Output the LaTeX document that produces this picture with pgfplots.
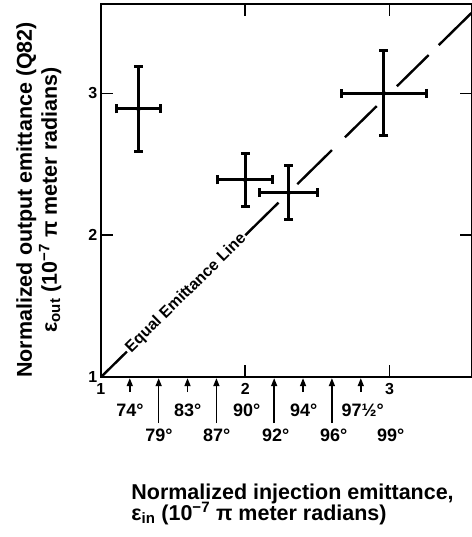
\documentclass[border=0pt]{standalone}
\usepackage{pgfplots}
\pgfplotsset{compat=1.18}
\usepackage{fontspec}
\setmainfont{Liberation Sans}
\newfontfamily\lab{Liberation Sans}
\usetikzlibrary{arrows.meta}
\begin{document}
\begin{tikzpicture}
\begin{axis}[
  scale only axis, width=371.4pt, height=373.5pt,
  xmin=1, xmax=3.57, ymin=1, ymax=3.63,
  xtick={1,2,3}, ytick={1,2,3},
  tick pos=both, tick align=inside, major tick length=12pt,
  tick style={black, line width=1.6pt},
  axis line style={line width=1.6pt},
  /pgf/number format/assume math mode=true,
  ticklabel style={font=\bfseries\fontsize{16}{16}\selectfont},
  xticklabel style={yshift=-3pt},
  clip=false,
]
% equal emittance line (segments)
\addplot[black, line width=2.4pt] coordinates {(1,1) (1.18,1.18)};
\addplot[black, line width=2.4pt] coordinates {(2.0,2.0) (2.23,2.23)};
\addplot[black, line width=2.4pt] coordinates {(2.36,2.36) (2.60,2.60)};
\addplot[black, line width=2.4pt] coordinates {(2.69,2.69) (2.91,2.91)};
\addplot[black, line width=2.4pt] coordinates {(3.05,3.05) (3.27,3.27)};
\addplot[black, line width=2.4pt] coordinates {(3.34,3.34) (3.57,3.57)};
\node[rotate=44.5, font=\bfseries\fontsize{16}{16}\selectfont] at (axis cs:1.59,1.59) {Equal Emittance Line};
% data with error bars
\addplot[black, only marks, mark=none,
  error bars/.cd, x dir=both, x explicit, y dir=both, y explicit,
  error mark=none,
  error bar style={line width=3pt, black, arrows={-Bar[width=9pt]}}]
  coordinates {
  (1.26,2.89) +- (0.16,0.31)
  (2.00,2.39) +- (0.20,0.20)
  (2.30,2.30) +- (0.21,0.20)
  (2.96,3.00) +- (0.305,0.31)
  };
% angle annotations
\foreach \xx in {1.2,1.6,2.4,2.8}{
  \edef\tmp{\noexpand\draw[line width=1.5pt, -{Triangle[width=6pt,length=8pt]}] ([yshift=-15pt]axis cs:\xx,1) -- ([yshift=-1pt]axis cs:\xx,1);}\tmp
}
\foreach \xx in {1.4,1.8,2.2,2.6}{
  \edef\tmp{\noexpand\draw[line width=1.5pt, -{Triangle[width=6pt,length=8pt]}] ([yshift=-46pt]axis cs:\xx,1) -- ([yshift=-1pt]axis cs:\xx,1);}\tmp
}
\coordinate (SW) at (rel axis cs:0,0);
\coordinate (NE) at (rel axis cs:1,1);
\coordinate (YL) at (rel axis cs:0,0.475);
\end{axis}
\begin{scope}[font=\bfseries\fontsize{18}{18}\selectfont]
\node at ([xshift=29pt,yshift=-33pt]SW) {74°};
\node at ([xshift=87pt,yshift=-33pt]SW) {83°};
\node at ([xshift=146pt,yshift=-33pt]SW) {90°};
\node at ([xshift=203pt,yshift=-33pt]SW) {94°};
\node at ([xshift=262pt,yshift=-33pt]SW) {97½°};
\node at ([xshift=58pt,yshift=-58pt]SW) {79°};
\node at ([xshift=116pt,yshift=-58pt]SW) {87°};
\node at ([xshift=175pt,yshift=-58pt]SW) {92°};
\node at ([xshift=233pt,yshift=-58pt]SW) {96°};
\node at ([xshift=290pt,yshift=-58pt]SW) {99°};
\end{scope}
\begin{scope}[font=\lab\bfseries\fontsize{21.5}{25}\selectfont]
\node[rotate=90, anchor=base] at ([xshift=-69pt]YL) {Normalized output emittance (Q82)};
\node[rotate=90, anchor=base] at ([xshift=-44pt]YL) {ε\textsubscript{out} (10\textsuperscript{−7} π meter radians)};
\node[anchor=base west] at ([xshift=27pt,yshift=-122pt]SW) {Normalized injection emittance,};
\node[anchor=base west] at ([xshift=27pt,yshift=-143pt]SW) {ε\textsubscript{in} (10\textsuperscript{−7} π meter radians)};
\end{scope}
\pgfresetboundingbox
\path ([xshift=-101pt,yshift=-160pt]SW) rectangle ([xshift=-0.8pt,yshift=4pt]NE);
\end{tikzpicture}
\end{document}
